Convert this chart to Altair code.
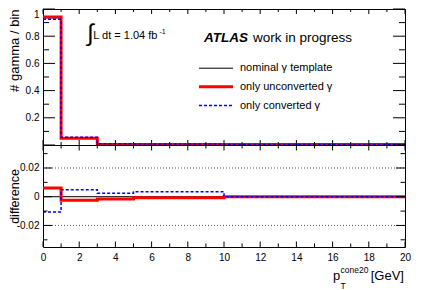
import altair as alt
import pandas as pd

FONT = "Liberation Sans"

# ---------------- data ----------------
edges = [0, 1, 3, 5, 10, 20]
series_names = ["nominal γ template", "only unconverted γ", "only converted γ"]
series_colors = ["#000000", "#ff0000", "#0000ff"]
series_widths = [1, 3, 1.5]
series_dashes = [[1, 0], [1, 0], [3, 2]]

top_nominal = [0.935, 0.052, 0.006, 0.004, 0.003]
top_unconverted = [0.941, 0.049, 0.004, 0.003, 0.003]
top_converted = [0.924, 0.057, 0.0085, 0.0075, 0.003]

diff_nominal = [0.0, 0.0, 0.0, 0.0, 0.0]
diff_unconverted = [0.006, -0.0025, -0.0016, -0.0007, 0.0]
diff_converted = [-0.0106, 0.0049, 0.0024, 0.0035, 0.0]

x_major = [0, 2, 4, 6, 8, 10, 12, 14, 16, 18, 20]
x_minor = [1, 3, 5, 7, 9, 11, 13, 15, 17, 19]
top_y_labels = [0.2, 0.4, 0.6, 0.8, 1.0]
top_y_major = [0.0, 0.2, 0.4, 0.6, 0.8, 1.0]
top_y_minor = [0.1, 0.3, 0.5, 0.7, 0.9]
diff_y_major = [-0.02, 0.0, 0.02]
diff_y_minor = [-0.03, -0.01, 0.01, 0.03]
diff_grid = [-0.02, 0.02]

top_title = "# gamma / bin"
bottom_title = "difference"
atlas_bold = "ATLAS"
atlas_rest = "work in progress"
lumi_integral = "∫"
lumi_text = "L dt = 1.04 fb"
lumi_sup = "-1"
xt_main = "p"
xt_sub = "T"
xt_sup = "cone20"
xt_unit = "[GeV]"

# ---------------- layout ----------------
W, H1, H2 = 362, 136, 102

xscale = alt.Scale(domain=[0, 20], nice=False, zero=False)
y1scale = alt.Scale(domain=[0, 1], nice=False, zero=False)
y2scale = alt.Scale(domain=[-0.035, 0.036], nice=False, zero=False)
color_scale = alt.Scale(type="ordinal", domain=series_names, range=series_colors)
width_scale = alt.Scale(type="ordinal", domain=series_names, range=series_widths)
dash_scale = alt.Scale(type="ordinal", domain=series_names, range=series_dashes)


def step_frame(value_lists):
    rows = []
    for k, (name, vals) in enumerate(zip(series_names, value_lists)):
        pts = list(vals) + [vals[-1]]
        for x, y in zip(edges, pts):
            rows.append({"series": name, "k": k, "x": x, "y": y})
    return pd.DataFrame(rows)


def lines(df, yscale, xaxis, yaxis):
    return alt.Chart(df).mark_line(interpolate="step-after").encode(
        x=alt.X("x:Q", scale=xscale, axis=xaxis),
        y=alt.Y("y:Q", scale=yscale, axis=yaxis),
        color=alt.Color("series:N", scale=color_scale, legend=None),
        strokeWidth=alt.StrokeWidth("series:N", scale=width_scale, legend=None),
        strokeDash=alt.StrokeDash("series:N", scale=dash_scale, legend=None),
    )


def xticks(vals, y_from, y_to, xaxis):
    return alt.Chart(pd.DataFrame({"v": vals})).mark_rule(color="black", strokeWidth=1).encode(
        x=alt.X("v:Q", scale=xscale, axis=xaxis),
        y=alt.value(y_from), y2=alt.value(y_to))


def yticks(vals, yscale, x_from, x_to, yaxis):
    return alt.Chart(pd.DataFrame({"v": vals})).mark_rule(color="black", strokeWidth=1).encode(
        y=alt.Y("v:Q", scale=yscale, axis=yaxis),
        x=alt.value(x_from), x2=alt.value(x_to))


def label(text, x, y, size, align="left", baseline="middle", **kw):
    return alt.Chart(pd.DataFrame({"t": [text]})).mark_text(
        align=align, baseline=baseline, font=FONT, fontSize=size, color="black", **kw
    ).encode(text="t:N", x=alt.value(x), y=alt.value(y))


def legend_layers(x0, x1, y0, dy, text_x, size):
    out = []
    for i, name in enumerate(series_names):
        yy = y0 + i * dy
        out.append(
            alt.Chart(pd.DataFrame({"t": [name]})).mark_rule(
                color=series_colors[i], strokeWidth=series_widths[i],
                strokeDash=series_dashes[i]
            ).encode(x=alt.value(x0), x2=alt.value(x1), y=alt.value(yy))
        )
        out.append(label(name, text_x, yy, size))
    return out


top_yaxis = alt.Axis(
    values=top_y_labels, labelExpr="format(datum.value, '~g')", ticks=False, tickSize=0,
    domain=False, grid=False, labelFont=FONT, labelFontSize=10, labelColor="black",
    labelPadding=4, labelFlush=True, title=top_title, titleFont=FONT, titleFontSize=13,
    titleFontWeight="normal", titleColor="black", titleAngle=270, titleAnchor="end",
    titleAlign="right", titleBaseline="middle", titleX=-28.5, titleY=0,
)

bottom_yaxis = alt.Axis(
    values=diff_y_major,
    labelExpr="datum.value < 0 ? '-' + format(-datum.value, '~g') : format(datum.value, '~g')",
    ticks=False, tickSize=0, domain=False, grid=False, labelFont=FONT, labelFontSize=10,
    labelColor="black", labelPadding=4, labelFlush=False, title=bottom_title, titleFont=FONT,
    titleFontSize=12.5, titleFontWeight="normal", titleColor="black", titleAngle=270,
    titleAnchor="middle", titleAlign="center", titleBaseline="middle", titleX=-28.5,
    titleY=H2 / 2,
)

bottom_xaxis = alt.Axis(
    values=x_major, format="d", ticks=False, tickSize=0, domain=False, grid=False,
    labelFont=FONT, labelFontSize=10, labelColor="black", labelPadding=5,
    labelFlush=False, title=None,
)

top = alt.layer(
    lines(step_frame([top_nominal, top_unconverted, top_converted]), y1scale, None, top_yaxis),
    xticks(x_major, H1, H1 - 5, None), xticks(x_minor, H1, H1 - 3, None),
    xticks(x_major, 0, 5, None), xticks(x_minor, 0, 3, None),
    yticks(top_y_major, y1scale, 0, 12, top_yaxis), yticks(top_y_minor, y1scale, 0, 6, top_yaxis),
    yticks(top_y_major, y1scale, W, W - 12, top_yaxis), yticks(top_y_minor, y1scale, W, W - 6, top_yaxis),
    label(lumi_integral, 47.5, 24.5, 24, align="center"),
    label(lumi_text, 50.3, 26.5, 11),
    label(lumi_sup, 116.5, 22.5, 7),
    label(atlas_bold, 161, 29.2, 13.5, fontWeight="bold", fontStyle="italic"),
    label(atlas_rest, 210, 29.2, 13.5),
    *legend_layers(156, 190, 59.2, 18.65, 197, 11),
).properties(width=W, height=H1)

grid = alt.Chart(pd.DataFrame({"v": diff_grid})).mark_rule(
    color="#555555", strokeWidth=1, strokeDash=[1, 2]
).encode(y=alt.Y("v:Q", scale=y2scale, axis=bottom_yaxis), x=alt.value(0), x2=alt.value(W))

bottom = alt.layer(
    grid,
    lines(step_frame([diff_nominal, diff_unconverted, diff_converted]), y2scale, bottom_xaxis, bottom_yaxis),
    xticks(x_major, H2, H2 - 5.5, bottom_xaxis), xticks(x_minor, H2, H2 - 3.5, bottom_xaxis),
    xticks(x_major, 0, 5.5, bottom_xaxis), xticks(x_minor, 0, 3.5, bottom_xaxis),
    yticks(diff_y_major, y2scale, 0, 9, bottom_yaxis), yticks(diff_y_minor, y2scale, 0, 4.5, bottom_yaxis),
    yticks(diff_y_major, y2scale, W, W - 9, bottom_yaxis), yticks(diff_y_minor, y2scale, W, W - 4.5, bottom_yaxis),
    label(xt_main, 290, 134.5, 13, baseline="alphabetic"),
    label(xt_sub, 297.5, 143.5, 8.5, baseline="alphabetic"),
    label(xt_sup, 297.5, 127.5, 8.5, baseline="alphabetic"),
    label(xt_unit, 361, 134.5, 13, align="right", baseline="alphabetic"),
).properties(width=W, height=H2)

chart = alt.vconcat(top, bottom, spacing=0, bounds="flush").resolve_scale(
    color="independent", strokeWidth="independent", strokeDash="independent", y="independent"
).properties(
    padding={"left": 0, "top": 0, "right": 0, "bottom": 0}
).configure_view(stroke="black", strokeWidth=1)

chart.save("out.html", embed_options={"renderer": "svg", "actions": False})
